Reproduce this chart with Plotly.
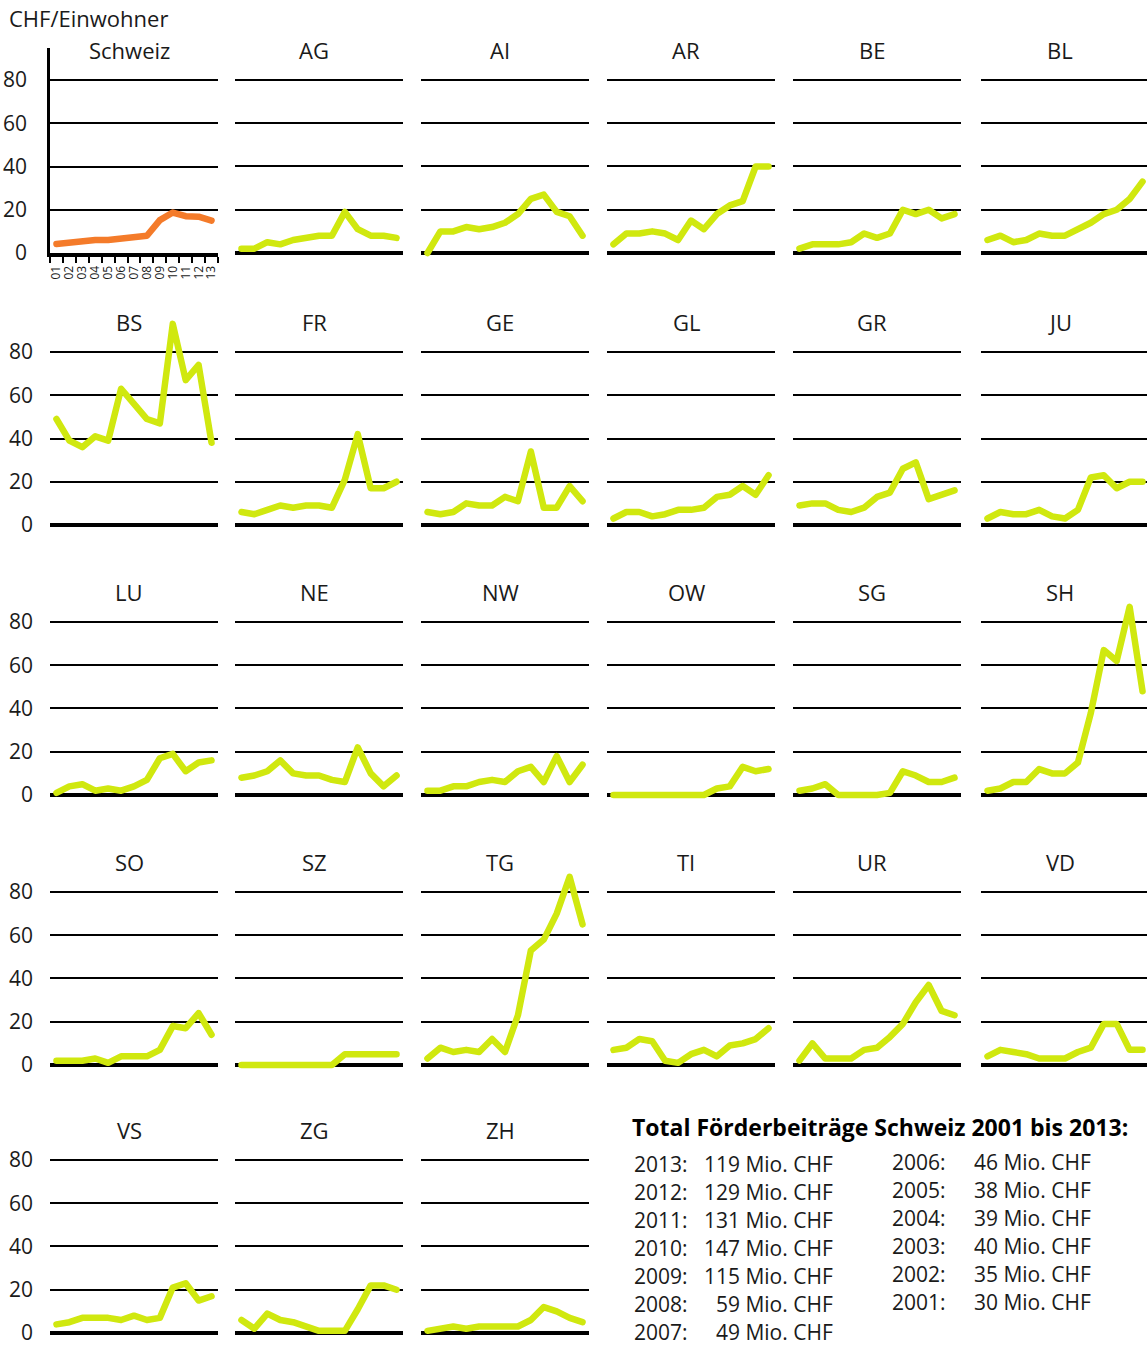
import plotly.graph_objects as go

# ---------------------------------------------------------------
# Data: CHF per inhabitant, 2001-2013
# ---------------------------------------------------------------
year_labels = ["01", "02", "03", "04", "05", "06", "07", "08", "09", "10", "11", "12", "13"]
year_pos = list(range(1, 14))

schweiz = [4.2, 5.0, 5.8, 6.0, 6.0, 6.8, 7.0, 8.0, 15.2, 18.7, 17.0, 16.8, 15.0]
ag = [2, 2, 5, 4, 6, 7, 8, 8, 19, 11, 8, 8, 7]
ai = [0, 10, 10, 12, 11, 12, 14, 18, 25, 27, 19, 17, 8]
ar = [4, 9, 9, 10, 9, 6, 15, 11, 18, 22, 24, 40, 40]
be = [2, 4, 4, 4, 5, 9, 7, 9, 20, 18, 20, 16, 18]
bl = [6, 8, 5, 6, 9, 8, 8, 11, 14, 18, 20, 25, 33]
bs = [49, 39, 36, 41, 39, 63, 56, 49, 47, 93, 67, 74, 38]
fr = [6, 5, 7, 9, 8, 9, 9, 8, 21, 42, 17, 17, 20]
ge = [6, 5, 6, 10, 9, 9, 13, 11, 34, 8, 8, 18, 11]
gl = [3, 6, 6, 4, 5, 7, 7, 8, 13, 14, 18, 14, 23]
gr = [9, 10, 10, 7, 6, 8, 13, 15, 26, 29, 12, 14, 16]
ju = [3, 6, 5, 5, 7, 4, 3, 7, 22, 23, 17, 20, 20]
lu = [1, 4, 5, 2, 3, 2, 4, 7, 17, 19, 11, 15, 16]
ne = [8, 9, 11, 16, 10, 9, 9, 7, 6, 22, 10, 4, 9]
nw = [2, 2, 4, 4, 6, 7, 6, 11, 13, 6, 18, 6, 14]
ow = [0, 0, 0, 0, 0, 0, 0, 0, 3, 4, 13, 11, 12]
sg = [2, 3, 5, 0, 0, 0, 0, 1, 11, 9, 6, 6, 8]
sh = [2, 3, 6, 6, 12, 10, 10, 15, 38, 67, 62, 87, 48]
so = [2, 2, 2, 3, 1, 4, 4, 4, 7, 18, 17, 24, 14]
sz = [0, 0, 0, 0, 0, 0, 0, 0, 5, 5, 5, 5, 5]
tg = [3, 8, 6, 7, 6, 12, 6, 23, 53, 58, 70, 87, 65]
ti = [7, 8, 12, 11, 2, 1, 5, 7, 4, 9, 10, 12, 17]
ur = [2, 10, 3, 3, 3, 7, 8, 13, 19, 29, 37, 25, 23]
vd = [4, 7, 6, 5, 3, 3, 3, 6, 8, 19, 19, 7, 7]
vs = [4, 5, 7, 7, 7, 6, 8, 6, 7, 21, 23, 15, 17]
zg = [6, 2, 9, 6, 5, 3, 1, 1, 1, 11, 22, 22, 20]
zh = [1, 2, 3, 2, 3, 3, 3, 3, 6, 12, 10, 7, 5]

panel_names = ["Schweiz", "AG", "AI", "AR", "BE", "BL",
               "BS", "FR", "GE", "GL", "GR", "JU",
               "LU", "NE", "NW", "OW", "SG", "SH",
               "SO", "SZ", "TG", "TI", "UR", "VD",
               "VS", "ZG", "ZH"]
panel_values = [schweiz, ag, ai, ar, be, bl,
                bs, fr, ge, gl, gr, ju,
                lu, ne, nw, ow, sg, sh,
                so, sz, tg, ti, ur, vd,
                vs, zg, zh]

y_ticks = [0, 20, 40, 60, 80]

# Total contributions, Mio. CHF
total_years_left = [2013, 2012, 2011, 2010, 2009, 2008, 2007]
total_mio_left = [119, 129, 131, 147, 115, 59, 49]
total_years_right = [2006, 2005, 2004, 2003, 2002, 2001]
total_mio_right = [46, 38, 39, 40, 35, 30]

# ---------------------------------------------------------------
# Layout geometry (pixels)
# ---------------------------------------------------------------
W, H = 1147, 1346
FONT = "Open Sans"
TXT = "#1a1a1a"
LIME = "#D0E80F"
ORANGE = "#F47B2A"

col_left = [50, 235, 421, 607, 793, 981]
panel_w = 168
row_zero = [253, 525, 795, 1065, 1333]
ppu = 173 / 80  # pixels per CHF unit
unit_w = panel_w / 13

fig = go.Figure()
layout_axes = {}
annotations = []

for i, (name, vals) in enumerate(zip(panel_names, panel_values)):
    r, c = divmod(i, 6)
    k = i + 1
    sfx = "" if k == 1 else str(k)

    x0 = col_left[c]
    x1 = min(x0 + panel_w, W)
    x_hi = 0.5 + (x1 - x0) / unit_w

    if i == 0:
        y_lo, y_hi = 0, 95
    else:
        y_lo, y_hi = -3, 98
    top = row_zero[r] - y_hi * ppu
    bot = row_zero[r] - y_lo * ppu

    fig.add_trace(go.Scatter(
        x=year_pos, y=vals, mode="lines",
        line=dict(color=ORANGE if i == 0 else LIME, width=6.5),
        xaxis="x" + sfx, yaxis="y" + sfx,
        name=name, hovertemplate=name + " 20%{text}: %{y}<extra></extra>",
        text=year_labels,
    ))

    xa = dict(domain=[x0 / W, x1 / W], range=[0.5, x_hi], anchor="y" + sfx,
              showgrid=False, zeroline=False, showticklabels=False, ticks="",
              automargin=False, fixedrange=True)
    ya = dict(domain=[1 - bot / H, 1 - top / H], range=[y_lo, y_hi], anchor="x" + sfx,
              tickvals=y_ticks, showgrid=True, gridcolor="black", gridwidth=2,
              ticks="", showticklabels=(c == 0), ticklabelstandoff=16,
              ticklabeloverflow="allow",
              tickfont=dict(family=FONT, size=21, color=TXT),
              automargin=False, fixedrange=True)

    if i == 0:
        xa.update(showline=True, linecolor="black", linewidth=4,
                  tickmode="array", tickvals=year_pos, ticktext=year_labels,
                  showticklabels=True, tickangle=-90, ticklabelstandoff=4,
                  ticklabeloverflow="allow",
                  tickfont=dict(family=FONT, size=12, color=TXT),
                  minor=dict(tickmode="array", tickvals=[p + 0.5 for p in range(0, 14)],
                             ticks="outside", ticklen=6, tickwidth=2, tickcolor="black"))
        ya.update(zeroline=False, showline=True, linecolor="black", linewidth=2.5)
    else:
        ya.update(zeroline=True, zerolinecolor="black", zerolinewidth=4)

    layout_axes["xaxis" + sfx] = xa
    layout_axes["yaxis" + sfx] = ya

    annotations.append(dict(
        text=name, x=(x0 + panel_w / 2 - 5) / W, y=1 - (row_zero[r] - 203) / H,
        xref="paper", yref="paper", xanchor="center", yanchor="middle",
        showarrow=False, font=dict(family=FONT, size=22, color=TXT)))

annotations.append(dict(
    text="CHF/Einwohner", x=7 / W, y=1 - 18 / H, xref="paper", yref="paper",
    xanchor="left", yanchor="middle", showarrow=False,
    font=dict(family=FONT, size=22, color=TXT)))

annotations.append(dict(
    text="<b>Total Förderbeiträge Schweiz 2001 bis 2013:</b>",
    x=630 / W, y=1 - 1127 / H, xref="paper", yref="paper",
    xanchor="left", yanchor="middle", showarrow=False,
    font=dict(family=FONT, size=23, color="black")))


def total_line(yr, v):
    # figure spaces keep the amounts right-aligned under each other
    pad = "\u2007" * (3 - len(str(v)))
    return f"{yr}:\u00a0\u00a0\u00a0{pad}{v} Mio. CHF"


for j, (yr, v) in enumerate(zip(total_years_left, total_mio_left)):
    annotations.append(dict(text=total_line(yr, v), x=632 / W, y=1 - (1164 + 28 * j) / H,
                            xref="paper", yref="paper", xanchor="left", yanchor="middle",
                            showarrow=False, font=dict(family=FONT, size=21, color=TXT)))

for j, (yr, v) in enumerate(zip(total_years_right, total_mio_right)):
    annotations.append(dict(text=total_line(yr, v), x=890 / W, y=1 - (1162 + 28 * j) / H,
                            xref="paper", yref="paper", xanchor="left", yanchor="middle",
                            showarrow=False, font=dict(family=FONT, size=21, color=TXT)))

fig.update_layout(
    width=W, height=H,
    margin=dict(l=0, r=0, t=0, b=0, autoexpand=False),
    paper_bgcolor="white", plot_bgcolor="white",
    showlegend=False,
    annotations=annotations,
    **layout_axes,
)

# the page body has a default 8px margin; remove it so the figure sits at 0,0,
# and give the thick series lines rounded joins like the original
post = ("document.body.style.margin='0';"
        "document.body.style.overflow='hidden';"
        "document.documentElement.style.overflow='hidden';"
        "document.querySelectorAll('.scatterlayer path.js-line').forEach(function(p){"
        "p.style.strokeLinejoin='round';p.style.strokeLinecap='round';});")
fig.write_html("out.html", config={"displayModeBar": False}, post_script=post)
